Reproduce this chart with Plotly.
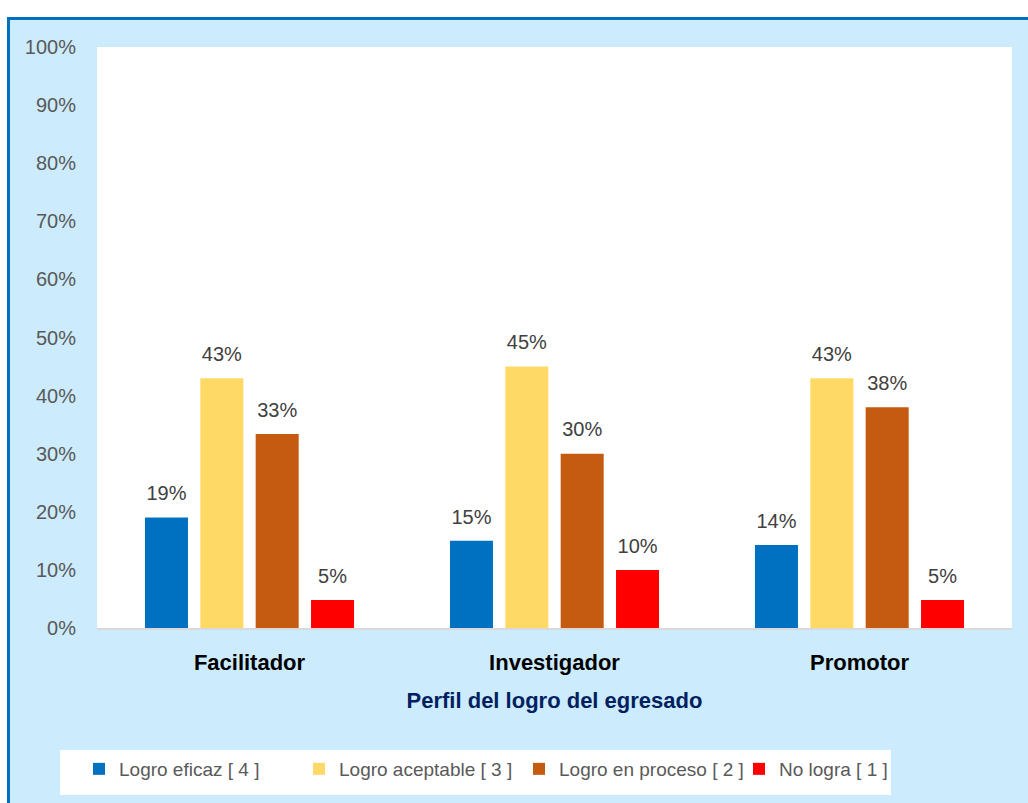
import plotly.graph_objs as go

# data
categories = ['Facilitador', 'Investigador', 'Promotor']
series_names = ['Logro eficaz [ 4 ]', 'Logro aceptable [ 3 ]',
                'Logro en proceso [ 2 ]', 'No logra [ 1 ]']
logro_eficaz = [0.19, 0.15, 0.143]
logro_aceptable = [0.43, 0.45, 0.43]
logro_proceso = [0.334, 0.30, 0.38]
no_logra = [0.048, 0.10, 0.048]
y_ticks = [0, 0.1, 0.2, 0.3, 0.4, 0.5, 0.6, 0.7, 0.8, 0.9, 1.0]

colors = ['#0070C0', '#FFD966', '#C55A11', '#FF0000']
series = [logro_eficaz, logro_aceptable, logro_proceso, no_logra]

FONT = 'Liberation Sans, Arial, sans-serif'
W, H = 1028, 803
ML, MR, MT, MB = 97, 16, 47, 175
PW, PH = W - ML - MR, H - MT - MB


def px_x(p):
    return (p - ML) / PW


def px_y(p):
    return (H - MB - p) / PH


data = []
for i, (name, vals) in enumerate(zip(series_names, series)):
    data.append(go.Bar(
        x=categories, y=vals, name=name,
        marker=dict(color=colors[i], line=dict(width=0)),
        offsetgroup=str(i), alignmentgroup='a',
    ))
# value labels, placed a little above each bar
for i, vals in enumerate(series):
    data.append(go.Scatter(
        x=categories, y=vals, mode='markers+text',
        marker=dict(size=18, opacity=0),
        text=['{:.0%}'.format(v) for v in vals],
        textposition='top center',
        textfont=dict(family=FONT, size=20, color='#404040'),
        offsetgroup=str(i), alignmentgroup='a',
        showlegend=False, hoverinfo='skip',
    ))

layout = go.Layout(
    width=W, height=H,
    margin=dict(l=ML, r=MR, t=MT, b=MB),
    paper_bgcolor='#CCEBFD',
    plot_bgcolor='white',
    barmode='group', scattermode='group',
    bargap=0.274, bargroupgap=0.223, scattergap=0.274,
    font=dict(family=FONT, color='#595959'),
    xaxis=dict(
        showline=True, linecolor='#D9D9D9', linewidth=2,
        ticks='outside', ticklen=14, tickcolor='rgba(0,0,0,0)',
        tickfont=dict(family=FONT, size=22, color='black', weight='bold'),
        title=dict(text='Perfil del logro del egresado', standoff=18,
                   font=dict(family=FONT, size=22, color='#002060', weight='bold')),
    ),
    yaxis=dict(
        range=[0, 1], tickvals=y_ticks, tickformat='.0%',
        showgrid=False, zeroline=False, showline=False,
        ticks='outside', ticklen=16, tickcolor='rgba(0,0,0,0)',
        tickfont=dict(family=FONT, size=20, color='#595959'),
    ),
    legend=dict(
        orientation='h', x=px_x(79), xanchor='left', y=px_y(750), yanchor='top',
        bgcolor='rgba(0,0,0,0)', font=dict(family=FONT, size=19, color='#595959'),
        entrywidth=175, itemwidth=30, traceorder='normal',
    ),
    shapes=[
        dict(type='rect', xref='paper', yref='paper', layer='below',
             x0=px_x(0), x1=px_x(W), y0=px_y(17), y1=px_y(0),
             fillcolor='white', line=dict(width=0)),
        dict(type='rect', xref='paper', yref='paper', layer='below',
             x0=px_x(0), x1=px_x(7), y0=px_y(H), y1=px_y(0),
             fillcolor='white', line=dict(width=0)),
        dict(type='rect', xref='paper', yref='paper', layer='below',
             x0=px_x(7), x1=px_x(W), y0=px_y(20), y1=px_y(17),
             fillcolor='#0070C0', line=dict(width=0)),
        dict(type='rect', xref='paper', yref='paper', layer='below',
             x0=px_x(7), x1=px_x(10), y0=px_y(H), y1=px_y(17),
             fillcolor='#0070C0', line=dict(width=0)),
        # white legend panel
        dict(type='rect', xref='paper', yref='paper', layer='below',
             x0=px_x(60), x1=px_x(891), y0=px_y(795), y1=px_y(750),
             fillcolor='white', line=dict(width=0)),
    ],
)

fig = go.Figure(data=data, layout=layout)
fig.write_html('out.html', config={'displayModeBar': False},
               post_script="document.body.style.margin='0';")
